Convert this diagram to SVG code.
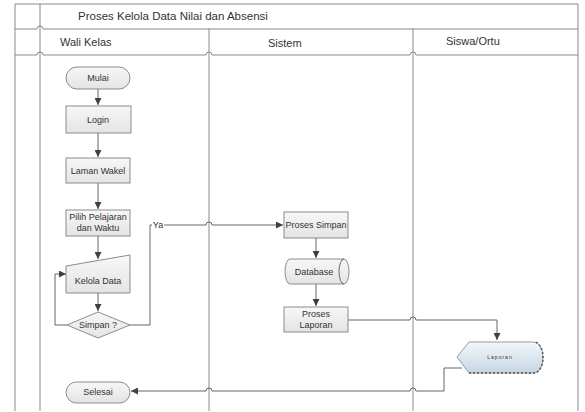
<svg xmlns="http://www.w3.org/2000/svg" width="585" height="412" viewBox="0 0 585 412">
<defs>
<linearGradient id="gbox" x1="0" y1="0" x2="0" y2="1"><stop offset="0" stop-color="#f7f7f7"/><stop offset="1" stop-color="#e4e4e4"/></linearGradient>
<linearGradient id="gdisp" x1="0" y1="0" x2="0" y2="1"><stop offset="0" stop-color="#f4f7fa"/><stop offset="1" stop-color="#c5d6e4"/></linearGradient>
<marker id="arr" viewBox="0 0 10 10" refX="10" refY="5" markerWidth="7" markerHeight="7" orient="auto" markerUnits="userSpaceOnUse"><path d="M0,0 L10,5 L0,10 z" fill="#404040"/></marker>
<style>
.frame{fill:none;stroke:#8a8a8a;stroke-width:1}
.box{fill:url(#gbox);stroke:#8c8c8c;stroke-width:1}
.con{fill:none;stroke:#666;stroke-width:1}
.t{font-family:"Liberation Sans",Arial,sans-serif;fill:#333;text-anchor:middle}
.s9{font-size:9px}
.h{font-size:11px;text-anchor:start}
</style>
</defs>
<rect width="585" height="412" fill="#fff"/>
<g id="frame">
<path class="frame" d="M15,4 H578 M15,4 V411 M578,4 V411 M40,4 V411"/>
<path class="frame" d="M15,29 H37 a3,3 0 0 1 6,0 H578"/>
<path class="frame" d="M15,55 H37 a3,3 0 0 1 6,0 H206 a3,3 0 0 1 6,0 H410 a3,3 0 0 1 6,0 H578"/>
<path class="frame" d="M209,29 V411 M413,29 V411"/>
<text class="t h" x="78" y="20" style="font-size:11.5px">Proses Kelola Data Nilai dan Absensi</text>
<text class="t h" x="60" y="46">Wali Kelas</text>
<text class="t h" x="268" y="47">Sistem</text>
<text class="t h" x="446" y="45">Siswa/Ortu</text>
</g>
<g id="connectors">
<path class="con" d="M98,89 V105" marker-end="url(#arr)"/>
<path class="con" d="M98,133 V157" marker-end="url(#arr)"/>
<path class="con" d="M98,183 V209" marker-end="url(#arr)"/>
<path class="con" d="M98,236 V259" marker-end="url(#arr)"/>
<path class="con" d="M98,293 V311" marker-end="url(#arr)"/>
<path class="con" d="M67,325 H55 V274 H66" marker-end="url(#arr)"/>
<path class="con" d="M130,325 H150 V225 H206 a3,3 0 0 1 6,0 H283" marker-end="url(#arr)"/>
<rect x="152" y="220" width="12" height="10" fill="#fff"/>
<text class="t s9" x="158" y="228">Ya</text>
<path class="con" d="M316,238 V258" marker-end="url(#arr)"/>
<path class="con" d="M316,284 V306" marker-end="url(#arr)"/>
<path class="con" d="M348,320 H410 a3,3 0 0 1 6,0 H497 V340" marker-end="url(#arr)"/>
<path class="con" d="M462,368 H444 V391 H416 a3,3 0 0 0 -6,0 H212 a3,3 0 0 0 -6,0 H131" marker-end="url(#arr)"/>
</g>
<g id="mulai">
<rect class="box" x="66" y="67" width="64" height="22" rx="11"/>
<text class="t s9" x="98" y="81">Mulai</text>
</g>
<g id="login">
<rect class="box" x="66" y="106" width="65" height="27"/>
<text class="t s9" x="98" y="123">Login</text>
</g>
<g id="laman-wakel">
<rect class="box" x="66" y="158" width="64" height="25"/>
<text class="t s9" x="98" y="174">Laman Wakel</text>
</g>
<g id="pilih">
<rect class="box" x="66" y="210" width="64" height="26"/>
<text class="t s9" x="98" y="220">Pilih Pelajaran</text>
<text class="t s9" x="98" y="231">dan Waktu</text>
</g>
<g id="kelola-data">
<path class="box" d="M66,266 L130,255 V293 H66 Z"/>
<text class="t s9" x="98" y="284">Kelola Data</text>
</g>
<g id="simpan">
<path class="box" d="M98,312 L130,325 L98,338 L67,325 Z"/>
<text class="t s9" x="98" y="328">Simpan ?</text>
</g>
<g id="proses-simpan">
<rect class="box" x="284" y="212" width="64" height="26"/>
<text class="t s9" x="316" y="228">Proses Simpan</text>
</g>
<g id="database">
<path class="box" d="M290,259 H344 A5,12.5 0 0 1 344,284 H290 A5,12.5 0 0 1 290,259 Z"/>
<path class="con" d="M344,259 A5,12.5 0 0 0 344,284" stroke="#8c8c8c"/>
<text class="t s9" x="314" y="275">Database</text>
</g>
<g id="proses-laporan">
<rect class="box" x="284" y="307" width="64" height="25"/>
<text class="t s9" x="316" y="317">Proses</text>
<text class="t s9" x="316" y="328">Laporan</text>
</g>
<g id="laporan">
<path d="M457,357 L469,342 H534 A9,15.5 0 0 1 534,373 H469 Z" fill="url(#gdisp)" stroke="#9a9a9a"/>
<path d="M469,373 H534 A9,15.5 0 0 0 534,342" fill="none" stroke="#555" stroke-width="1.5" stroke-dasharray="2,2"/>
<text class="t" x="500" y="359" style="font-size:5px;letter-spacing:1px">Laporan</text>
</g>
<g id="selesai">
<rect class="box" x="66" y="382" width="64" height="21" rx="10.5"/>
<text class="t s9" x="98" y="395">Selesai</text>
</g>
</svg>
